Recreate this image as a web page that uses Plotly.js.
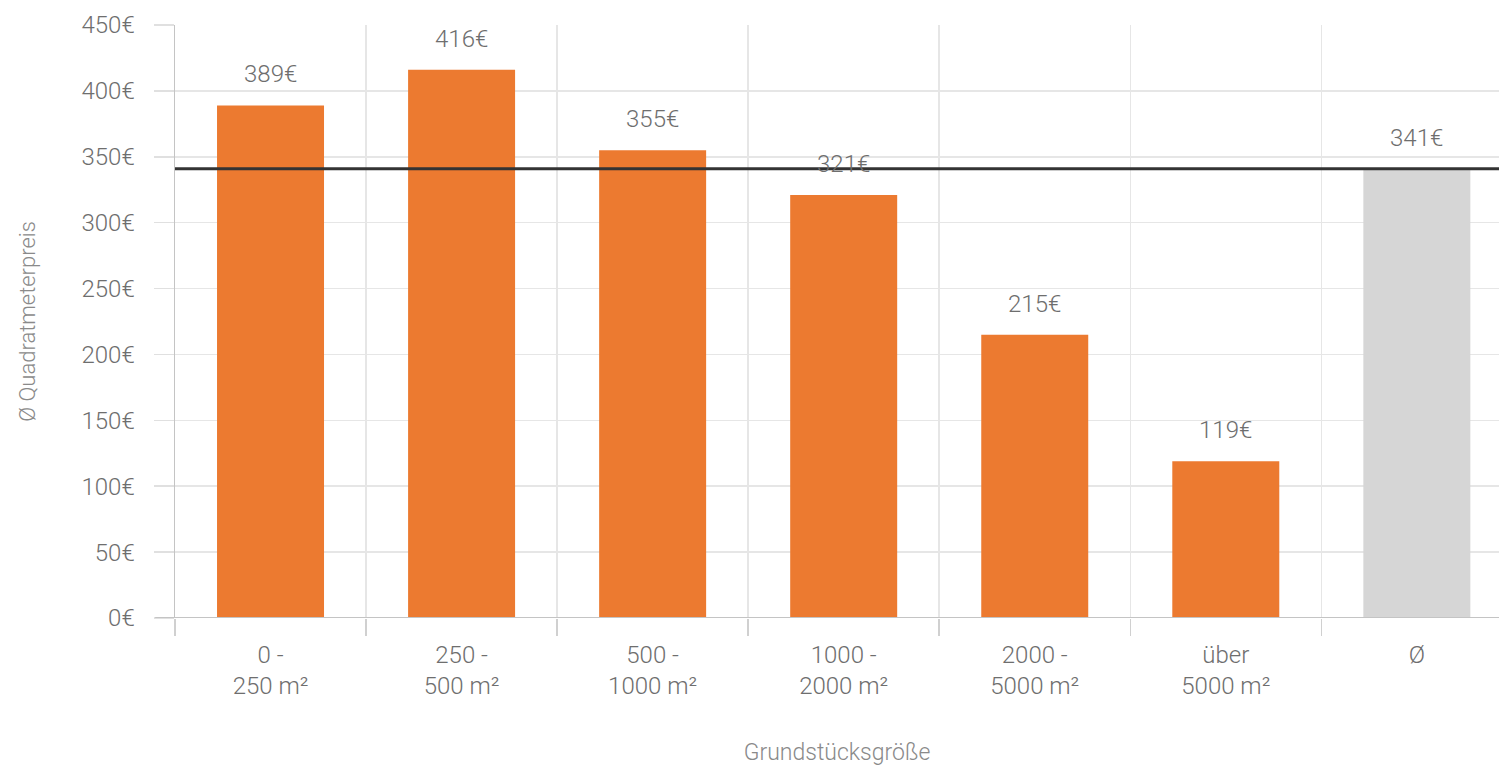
<!DOCTYPE html>
<html>
<head>
<meta charset="utf-8">
<script src="https://cdn.plot.ly/plotly-3.0.1.min.js"></script>
<style>html,body{margin:0;padding:0;background:#fff;}#chart{width:1499px;height:767px;}</style>
</head>
<body>
<div id="chart"></div>
<script>
var categories = ["0 -<br>250 m²", "250 -<br>500 m²", "500 -<br>1000 m²", "1000 -<br>2000 m²", "2000 -<br>5000 m²", "über<br>5000 m²", "Ø"];
var values = [389, 416, 355, 321, 215, 119, 341];
var barColors = ["#EC7A30", "#EC7A30", "#EC7A30", "#EC7A30", "#EC7A30", "#EC7A30", "#D6D6D6"];
var averageValue = 341;
var yTickVals = [0, 50, 100, 150, 200, 250, 300, 350, 400, 450];
var yTickText = ["0€", "50€", "100€", "150€", "200€", "250€", "300€", "350€", "400€", "450€"];

var fontFam = "Roboto, 'Open Sans', sans-serif";
var textCol = "#6e6e6e";

var trace = {
  type: "bar",
  x: categories,
  y: values,
  marker: {color: barColors, line: {width: 0}},
  hoverinfo: "none"
};

var annotations = categories.map(function (c, i) {
  return {
    x: c, y: values[i], xref: "x", yref: "y",
    text: values[i] + "€", showarrow: false,
    yanchor: "middle", yshift: 31,
    font: {family: fontFam, size: 24, color: textCol, weight: 300}
  };
});

var layout = {
  width: 1499, height: 767,
  margin: {l: 175, r: 0, t: 25, b: 149},
  paper_bgcolor: "#ffffff", plot_bgcolor: "#ffffff",
  font: {family: fontFam, size: 24, color: textCol, weight: 300},
  showlegend: false,
  bargap: 0.44,
  xaxis: {
    type: "category",
    range: [-0.5, 6.43],
    tickson: "boundaries",
    ticks: "outside", ticklen: 17, tickcolor: "#D0D0D0", tickwidth: 1.5,
    showgrid: true, gridcolor: "#E6E6E6", gridwidth: 1.5,
    showline: false, zeroline: false,
    ticklabelstandoff: 20,
    tickfont: {family: fontFam, size: 24, color: textCol, weight: 300},
    title: {text: "Grundstücksgröße", standoff: 44, font: {family: fontFam, size: 23, color: "#8a8a8a", weight: 300}},
    automargin: false
  },
  yaxis: {
    range: [0, 450],
    tickvals: yTickVals, ticktext: yTickText,
    ticks: "outside", ticklen: 20, tickcolor: "#E0E0E0", tickwidth: 1.5,
    showgrid: true, gridcolor: "#E6E6E6", gridwidth: 1.5,
    showline: true, linecolor: "#C4C4C4", linewidth: 1.5,
    zeroline: false,
    ticklabelstandoff: 14,
    tickfont: {family: fontFam, size: 24, color: textCol, weight: 300},
    title: {text: "Ø Quadratmeterpreis", standoff: 40, font: {family: fontFam, size: 22, color: "#8a8a8a", weight: 300}},
    automargin: false
  },
  shapes: [
    {type: "line", xref: "paper", yref: "y", x0: -0.015, x1: 1, y0: 0, y1: 0,
     line: {color: "#C4C4C4", width: 2}, layer: "above"},
    {type: "line", xref: "paper", yref: "y", x0: 0, x1: 1, y0: averageValue, y1: averageValue,
     line: {color: "#333333", width: 3}, layer: "above"}
  ],
  annotations: annotations
};

Plotly.newPlot("chart", [trace], layout, {staticPlot: true, displayModeBar: false});
</script>
</body>
</html>
